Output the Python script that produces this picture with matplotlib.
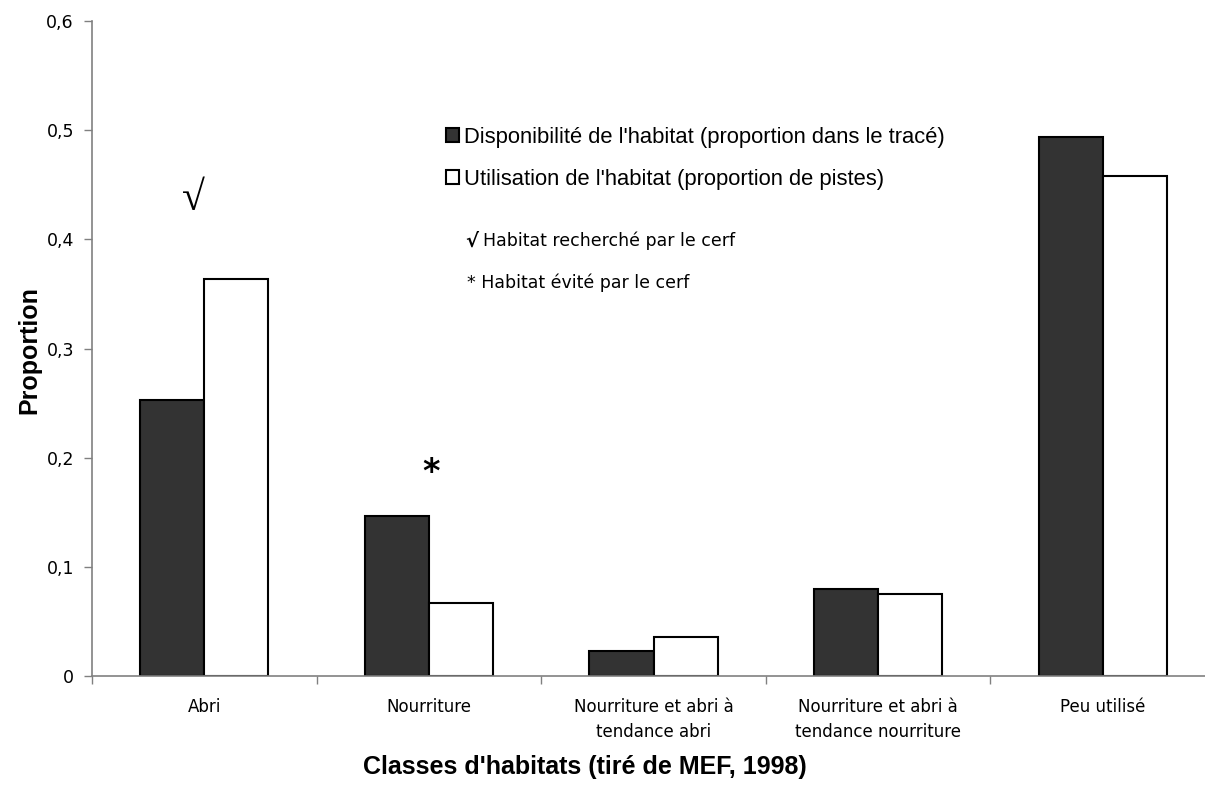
import matplotlib
matplotlib.use("Agg")
import matplotlib.pyplot as plt
from matplotlib.ticker import FixedLocator, FuncFormatter
import numpy as np

# proportions par classe d'habitat
categories = ["Abri", "Nourriture", "Nourriture et abri à\ntendance abri",
              "Nourriture et abri à\ntendance nourriture", "Peu utilisé"]
disponibilite = [0.253, 0.147, 0.023, 0.080, 0.494]
utilisation = [0.364, 0.067, 0.036, 0.075, 0.458]
yticks = [0, 0.1, 0.2, 0.3, 0.4, 0.5, 0.6]

W, H = 1205, 787
fig = plt.figure(figsize=(W / 100, H / 100), dpi=100)
ax = fig.add_axes([92 / W, 111 / H, 1123 / W, 655 / H])

x = np.arange(len(categories))
w = 0.285
b1 = ax.bar(x - w / 2, disponibilite, w, color="#333333", edgecolor="black", linewidth=1.5,
            label="Disponibilité de l'habitat (proportion dans le tracé)")
b2 = ax.bar(x + w / 2, utilisation, w, color="white", edgecolor="black", linewidth=1.5,
            label="Utilisation de l'habitat (proportion de pistes)")

ax.set_xlim(-0.5, len(categories) - 0.5)
ax.set_ylim(0, 0.6)

# ticks aux limites des classes, etiquettes au centre
ax.xaxis.set_major_locator(FixedLocator(np.arange(len(categories) + 1) - 0.5))
ax.xaxis.set_major_formatter(FuncFormatter(lambda v, p: ""))
ax.set_xticks(x, minor=True)
ax.set_xticklabels(categories, minor=True, fontsize=12, family="DejaVu Sans", linespacing=1.45)
ax.tick_params(axis="x", which="minor", length=0, pad=16)
ax.tick_params(axis="x", which="major", length=6, color="#808080", width=1)

ax.set_yticks(yticks)
ax.yaxis.set_major_formatter(FuncFormatter(lambda v, p: "0" if v == 0 else f"{v:.1f}".replace(".", ",")))
ax.tick_params(axis="y", length=6, color="#808080", width=1, pad=7, labelsize=12.5)

for s in ["top", "right"]:
    ax.spines[s].set_visible(False)
for s in ["left", "bottom"]:
    ax.spines[s].set_color("#808080")
    ax.spines[s].set_linewidth(1.2)

# marques au-dessus des barres
ax.text(-0.05, 0.436, "√", ha="center", va="center", fontsize=30, family="Liberation Serif")
ax.text(1.01, 0.186, "*", ha="center", va="center", fontsize=24, fontweight="bold",
        family="DejaVu Sans")

leg = ax.legend(handles=[b1, b2], loc="upper left", bbox_to_anchor=(446 / W, 1 - 127 / H),
                bbox_transform=fig.transFigure, frameon=False, borderpad=0, borderaxespad=0,
                handlelength=0.6, handleheight=0.6, handletextpad=0.2, labelspacing=0.95,
                prop={"family": "Liberation Sans", "size": 15.8})

fig.text(465 / W, 1 - 241 / H, "√", fontsize=14, fontweight="bold", va="center", family="DejaVu Sans")
fig.text(483 / W, 1 - 241 / H, "Habitat recherché par le cerf", fontsize=12.5, va="center",
         family="DejaVu Sans")
fig.text(467 / W, 1 - 283 / H, "* Habitat évité par le cerf", fontsize=12.5, va="center",
         family="DejaVu Sans")

fig.text(585 / W, 1 - 767 / H, "Classes d'habitats (tiré de MEF, 1998)", ha="center", va="center",
         fontsize=18, fontweight="bold", family="Liberation Sans")
fig.text(29 / W, 1 - 350 / H, "Proportion", rotation=90, ha="center", va="center",
         fontsize=18, fontweight="bold", family="Liberation Sans")

fig.savefig("out.png", dpi=100)
